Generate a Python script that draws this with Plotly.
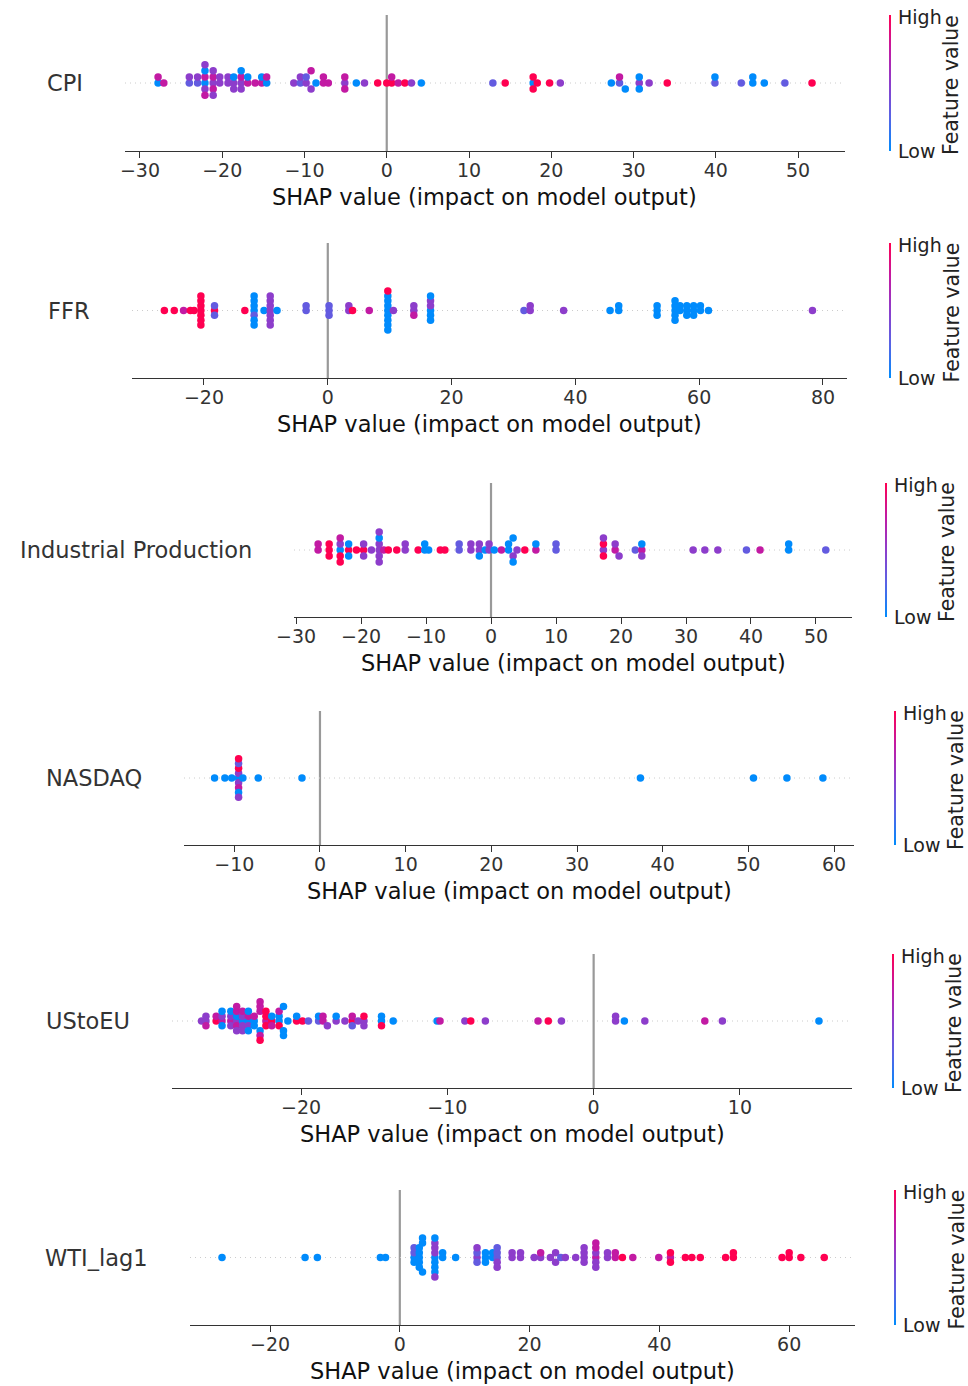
import numpy as np
import plotly.graph_objects as go

# ---------------- data (SHAP value groups; feature values per stacked dot, 0=low 1=high) ----
features = ["CPI", "FFR", "Industrial Production", "NASDAQ", "UStoEU", "WTI_lag1"]

cpi_shap = [-27.8, -27.1, -24.0, -23.0, -22.1, -21.1, -20.3, -19.3, -18.6, -17.7, -16.9, -16.0,
            -15.2, -14.6, -11.3, -10.5, -9.8, -9.2, -8.6, -7.7, -7.1, -5.1, -3.7, -2.7, -1.1,
            0.0, 0.6, 1.4, 2.2, 3.0, 4.2, 12.9, 14.4, 17.8, 18.3, 19.8, 21.1, 27.3, 28.3, 29.0,
            30.7, 31.9, 34.1, 39.9, 43.1, 44.5, 45.9, 48.4, 51.7]
cpi_feat = [[0.0, 0.75], [0.75], [0.3, 0.5], [0.3, 0.5], [0.0, 0.75, 0.5, 0.0, 0.75, 0.5],
            [0.5, 0.75, 0.75, 0.5, 0.5], [0.5, 0.5], [0.5, 0.5], [0.5, 0.0, 0.5], [0.5, 0.75, 0.5, 0.0],
            [0.75, 0.0], [0.75], [0.75, 0.0], [0.0, 0.75], [0.5], [0.3, 0.5], [0.5, 0.3], [0.5, 0.75],
            [0.0], [0.75, 0.75], [0.75], [0.5, 0.75, 0.75], [0.0], [0.5], [1.0], [1.0], [1.0, 0.75],
            [0.75], [1.0], [0.5], [0.0], [0.3], [1.0], [0.0, 1.0, 1.0], [1.0], [1.0], [0.5], [0.0],
            [0.3, 0.75], [0.0], [0.5, 0.0, 0.0], [0.5], [1.0], [0.3, 0.0], [0.3], [0.0, 0.0], [0.0],
            [0.3], [1.0]]

ffr_shap = [-26.4, -24.8, -23.3, -22.2, -21.6, -20.5, -18.3, -13.4, -11.9, -10.3, -9.3, -8.2,
            -3.5, 0.2, 3.4, 4.0, 6.7, 9.7, 10.6, 13.9, 16.6, 31.7, 32.7, 38.1, 45.6, 47.0, 53.2,
            56.1, 56.9, 58.0, 59.1, 60.2, 61.5, 78.3]
ffr_feat = [[1.0], [1.0], [0.75], [1.0], [1.0], [1.0] * 7, [1.0, 0.3, 0.3], [1.0],
            [0.0, 0.0, 0.3, 0.0, 0.0, 0.0, 0.0], [0.0], [0.5] * 7, [0.0], [0.3, 0.3], [0.3, 0.3, 0.3],
            [0.5, 0.5], [1.0], [0.75], [0.0, 0.0, 0.0, 0.0, 0.0, 0.0, 0.0, 1.0, 0.0], [0.5],
            [0.5, 0.5, 0.75], [0.0, 0.5, 0.0, 0.5, 0.0, 0.0], [0.3], [0.5, 0.5], [0.5], [0.0],
            [0.0, 0.0], [0.0, 0.0, 0.0], [0.0] * 5, [0.0, 0.0], [0.0] * 3, [0.0] * 3, [0.0, 0.0],
            [0.0], [0.5]]

ip_shap = [-26.6, -24.9, -23.2, -21.9, -20.7, -19.6, -18.4, -17.2, -16.5, -15.8, -14.5, -13.2,
           -11.2, -10.2, -9.6, -7.8, -7.1, -4.9, -3.1, -1.8, -0.9, -0.3, 0.5, 1.6, 2.7, 3.4, 4.0,
           5.2, 6.9, 10.0, 17.3, 19.1, 19.7, 22.2, 23.2, 31.1, 32.9, 34.9, 39.3, 41.4, 45.8, 51.5]
ip_feat = [[0.75, 0.75], [1.0, 1.0, 1.0], [0.0, 0.5, 1.0, 0.75, 1.0], [1.0, 0.0, 0.0], [1.0],
           [1.0, 0.5, 0.5], [0.5], [0.5, 0.5, 0.5, 0.0, 0.5, 0.5], [0.75], [1.0], [1.0], [0.5, 0.5],
           [1.0], [0.0, 0.0], [0.0], [1.0], [1.0], [0.3, 0.3], [0.5, 0.5], [0.5, 0.5, 0.0], [0.0],
           [0.5, 0.5], [0.0], [0.75], [0.0, 0.0], [0.5, 0.0, 0.0], [0.5], [1.0], [0.75, 0.0],
           [0.3, 0.3], [0.5, 1.0, 1.0, 0.5], [0.75, 0.5], [0.5], [0.3], [0.75, 0.0, 0.5], [0.5],
           [0.5], [0.5], [0.3], [0.75], [0.0, 0.0], [0.3]]

nasdaq_shap = [-12.3, -11.1, -10.3, -9.5, -9.0, -7.2, -2.1, 37.4, 50.6, 54.5, 58.7]
nasdaq_feat = [[0.0], [0.0], [0.0], [0.0, 0.5, 0.5, 1.0, 0.75, 0.3, 0.0, 1.0, 0.5], [0.0], [0.0],
               [0.0], [0.0], [0.0], [0.0], [0.0]]

usteu_shap = [-26.8, -26.5, -25.8, -25.4, -24.8, -24.4, -24.0, -23.6, -23.2, -22.8, -22.4, -22.0,
              -21.5, -21.2, -20.9, -20.3, -19.9, -19.5, -18.8, -18.5, -18.2, -17.6, -17.0, -16.5,
              -16.1, -15.7, -14.5, -13.7, -10.7, -10.5, -8.8, -8.4, -7.4, -3.8, -3.1, -2.2, 1.5,
              2.1, 3.5, 7.6, 8.8, 15.4]
usteu_feat = [[0.5], [0.5, 0.5, 0.75], [1.0, 0.75], [0.75, 0.5, 0.0, 0.0], [0.75, 0.5, 0.5, 0.0],
              [0.5, 0.0, 0.75, 0.75, 0.5, 0.75], [0.0, 0.5, 0.5, 0.75, 0.5], [0.0, 0.75, 0.5, 0.0, 0.0],
              [0.0, 0.75, 0.0], [0.75, 0.0, 0.75, 0.75, 0.75, 1.0], [0.75, 1.0, 1.0, 1.0],
              [1.0, 0.0, 0.75], [0.0, 0.0, 1.0, 0.75], [0.0, 0.0, 0.0], [0.0], [1.0, 0.0], [1.0],
              [0.3], [0.3, 0.0], [0.75, 0.75], [0.5], [0.5, 0.0], [0.5], [1.0, 0.75, 0.3], [0.5],
              [0.5, 1.0, 0.5], [0.0, 0.0, 1.0], [0.0], [0.0], [0.75], [0.5], [1.0], [0.5], [0.75],
              [1.0], [0.5], [0.5, 0.5], [0.0], [0.5], [0.75], [0.5], [0.0]]

wti_shap = [-27.4, -14.6, -12.7, -3.0, -2.2, 2.2, 3.0, 3.5, 5.4, 6.6, 8.6, 11.9, 13.2, 14.3, 15.0,
            17.3, 18.6, 20.7, 21.7, 23.2, 24.0, 24.8, 25.5, 27.1, 28.4, 30.2, 32.0, 33.2, 34.3,
            35.9, 39.9, 41.7, 44.0, 45.0, 46.3, 50.2, 51.4, 58.9, 60.0, 61.8, 65.4]
wti_feat = [[0.0], [0.0], [0.0], [0.0], [0.0], [0.0, 0.3, 0.0, 0.3], [0.0] * 5, [0.0, 0.0, 0.0],
            [0.0, 0.5, 0.0, 0.5, 0.0, 0.5, 0.0, 0.0, 0.5], [0.0, 0.0], [0.0], [0.5, 0.3, 0.3, 0.5],
            [0.0, 0.0, 0.0], [0.0, 0.0], [0.3, 0.3, 0.5, 0.3, 0.5], [0.5, 0.5], [0.5, 0.5], [0.5],
            [0.5, 0.75], [0.5], [0.5, 0.5], [0.3], [0.5], [0.5], [0.5, 0.5, 0.5, 0.5],
            [0.75, 0.5, 0.5, 0.75, 0.5, 0.75], [0.5, 0.5], [0.75, 0.75], [1.0], [0.75], [0.75],
            [0.75, 1.0, 1.0], [1.0], [1.0], [1.0], [1.0], [1.0, 1.0], [1.0], [1.0, 1.0], [1.0], [1.0]]

all_shap = [cpi_shap, ffr_shap, ip_shap, nasdaq_shap, usteu_shap, wti_shap]
all_feat = [cpi_feat, ffr_feat, ip_feat, nasdaq_feat, usteu_feat, wti_feat]
x_dticks = [10, 20, 10, 10, 10, 20]

# ---------------- layout geometry (pixels) ----------------
W, H = 968, 1386
boxes = [  # left, right, top, bottom, x-range, colorbar x
    dict(l=125, r=845, t=15, b=151, xr=[-31.82, 55.71], cbx=889),
    dict(l=132, r=847, t=243, b=378, xr=[-31.63, 83.88], cbx=889),
    dict(l=294, r=852, t=483, b=617, xr=[-30.31, 55.54], cbx=885),
    dict(l=184, r=854, t=711, b=845, xr=[-15.87, 62.33], cbx=894),
    dict(l=172, r=852, t=954, b=1088, xr=[-28.82, 17.66], cbx=892),
    dict(l=190, r=855, t=1190, b=1325, xr=[-32.33, 70.14], cbx=894),
]

COLORSCALE = [[0.0, "#008bfc"], [0.25, "#5863e5"], [0.5, "#8d3dcb"],
              [0.75, "#c21aa3"], [1.0, "#ff0051"]]
FONT = "DejaVu Sans"
AX = "#333333"


def swarm(vals, nbins=100, row_height=0.4):
    vals = np.asarray(vals, float)
    n = len(vals)
    quant = np.round(nbins * (vals - vals.min()) / (vals.max() - vals.min() + 1e-8))
    inds = np.argsort(quant, kind="stable")
    layer, last = 0, -1
    ys = np.zeros(n)
    for ind in inds:
        if quant[ind] != last:
            layer = 0
        ys[ind] = np.ceil(layer / 2) * ((layer % 2) * 2 - 1)
        layer += 1
        last = quant[ind]
    ys *= 0.9 * (row_height / np.max(ys + 1))
    return ys


def px(xp):
    return xp / W


def py(yp):
    return 1 - yp / H


fig = go.Figure()
annotations = []
shapes = []
layout_axes = {}

for i, (name, sv, fv, dt, bx) in enumerate(zip(features, all_shap, all_feat, x_dticks, boxes)):
    n = i + 1
    sfx = "" if n == 1 else str(n)
    xs, cs = [], []
    for v, cols in zip(sv, fv):
        for c in cols:
            xs.append(v)
            cs.append(c)
    xs = np.array(xs)
    ys = swarm(xs)

    fig.add_trace(go.Scatter(
        x=xs, y=ys, mode="markers", xaxis="x" + sfx, yaxis="y" + sfx,
        showlegend=False, hoverinfo="skip",
        marker=dict(size=7.5, color=cs, colorscale=COLORSCALE, cmin=0, cmax=1,
                    line=dict(width=0),
                    colorbar=dict(x=px(bx["cbx"]), xanchor="left", xpad=0, ypad=0,
                                  y=py((bx["t"] + bx["b"]) / 2), yanchor="middle",
                                  len=(bx["b"] - bx["t"]) / H, lenmode="fraction",
                                  thickness=2, thicknessmode="pixels",
                                  outlinewidth=0, showticklabels=False, ticks="")),
    ))

    layout_axes["xaxis" + sfx] = dict(
        domain=[px(bx["l"]), px(bx["r"])], anchor="y" + sfx, range=bx["xr"],
        dtick=dt, tick0=0, showgrid=False, zeroline=False, showline=True,
        linecolor=AX, linewidth=1, ticks="outside", ticklen=6, tickwidth=1,
        tickcolor=AX, tickfont=dict(family=FONT, size=19, color=AX), fixedrange=True,
        automargin=False, ticklabelstandoff=-4)
    layout_axes["yaxis" + sfx] = dict(
        domain=[py(bx["b"]), py(bx["t"])], anchor="x" + sfx, range=[-1, 1],
        visible=False, fixedrange=True, automargin=False)

    # zero line and dotted row line
    shapes.append(dict(type="line", xref="x" + sfx, x0=0, x1=0, yref="y" + sfx + " domain",
                       y0=0, y1=1, line=dict(color="#999999", width=2.2), layer="below"))
    shapes.append(dict(type="line", xref="x" + sfx + " domain", x0=0, x1=1, yref="y" + sfx,
                       y0=0, y1=0, line=dict(color="#cccccc", width=1, dash="1px,4px"),
                       layer="below"))

    # feature name
    annotations.append(dict(text=name, xref="paper", yref="paper",
                            x=px(bx["l"] - 40), y=py((bx["t"] + bx["b"]) / 2),
                            xanchor="right", yanchor="middle", showarrow=False,
                            font=dict(family=FONT, size=22.5, color=AX)))
    # x title
    annotations.append(dict(text="SHAP value (impact on model output)", xref="paper", yref="paper",
                            x=px((bx["l"] + bx["r"]) / 2), y=py(bx["b"] + 46),
                            xanchor="center", yanchor="middle", showarrow=False,
                            font=dict(family=FONT, size=22.5, color="#111111")))
    # colorbar labels
    annotations.append(dict(text="High", xref="paper", yref="paper",
                            x=px(bx["cbx"] + 7), y=py(bx["t"] + 2), xanchor="left",
                            yanchor="middle", showarrow=False,
                            font=dict(family=FONT, size=19, color="#222222")))
    annotations.append(dict(text="Low", xref="paper", yref="paper",
                            x=px(bx["cbx"] + 7), y=py(bx["b"]), xanchor="left",
                            yanchor="middle", showarrow=False,
                            font=dict(family=FONT, size=19, color="#222222")))
    annotations.append(dict(text="Feature value", xref="paper", yref="paper",
                            x=px(bx["cbx"] + 62), y=py((bx["t"] + bx["b"]) / 2 + 2),
                            xanchor="center", yanchor="middle", showarrow=False, textangle=-90,
                            font=dict(family=FONT, size=20.5, color="#222222")))

fig.update_layout(
    width=W, height=H, margin=dict(l=0, r=0, t=0, b=0, autoexpand=False),
    paper_bgcolor="white", plot_bgcolor="white",
    font=dict(family=FONT, color=AX),
    annotations=annotations, shapes=shapes,
    **layout_axes,
)

fig.write_html("out.html")
